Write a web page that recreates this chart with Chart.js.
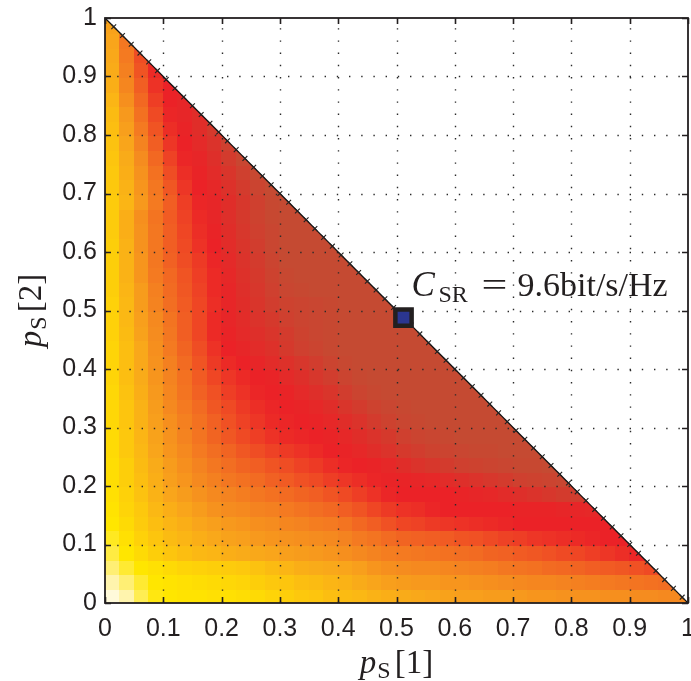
<!DOCTYPE html>
<html>
<head>
<meta charset="utf-8">
<script src="https://cdn.jsdelivr.net/npm/chart.js@4.4.1/dist/chart.umd.min.js"></script>
<style>
html,body{margin:0;padding:0;background:#ffffff;}
#wrap{width:691px;height:681px;position:relative;}
</style>
</head>
<body>
<div id="wrap"><canvas id="c" width="691" height="681"></canvas></div>
<script>
// ---------- DATA ----------
const tickValues = [0, 0.1, 0.2, 0.3, 0.4, 0.5, 0.6, 0.7, 0.8, 0.9, 1];
const tickLabels = ['0', '0.1', '0.2', '0.3', '0.4', '0.5', '0.6', '0.7', '0.8', '0.9', '1'];

// bin edges of the power-split grid (p_S[1] and p_S[2])
const p1Edges = [0, 0.025, 0.05, 0.075, 0.1, 0.125, 0.15, 0.175, 0.2, 0.225, 0.25, 0.275, 0.3, 0.325, 0.35, 0.375, 0.4, 0.425, 0.45, 0.475, 0.5, 0.525, 0.55, 0.575, 0.6, 0.625, 0.65, 0.675, 0.7, 0.725, 0.75, 0.775, 0.8, 0.825, 0.85, 0.875, 0.9, 0.925, 0.95, 0.975, 1];
const p2Edges = [0, 0.025, 0.05, 0.075, 0.1, 0.125, 0.15, 0.175, 0.2, 0.225, 0.25, 0.275, 0.3, 0.325, 0.35, 0.375, 0.4, 0.425, 0.45, 0.475, 0.5, 0.525, 0.55, 0.575, 0.6, 0.625, 0.65, 0.675, 0.7, 0.725, 0.75, 0.775, 0.8, 0.825, 0.85, 0.875, 0.9, 0.925, 0.95, 0.975, 1];

// relative sum-rate level (0 = lowest, 100 = highest) per cell, rows from p_S[2]=0 upward
const rateRows = [
  [3,9,15,19,20,21,21,22,22,23,24,26,28,30,31,33,34,35,37,38,39,40,41,42,43,43,44,44,45,46,46,47,47,47,48,48,49,49,50,50],
  [9,13,17,20,21,22,23,24,25,26,28,30,31,33,34,36,37,39,41,43,44,45,45,46,46,47,48,49,50,51,51,52,53,54,55,56,57,58,59],
  [13,17,20,22,24,26,27,28,29,30,32,34,36,38,39,40,41,43,46,48,49,50,50,51,52,53,54,56,57,58,60,61,62,64,65,66,68,70],
  [16,20,24,28,31,33,35,36,38,39,40,41,43,44,45,46,48,50,52,54,55,56,57,58,59,60,62,63,65,66,68,70,71,73,75,77,79],
  [18,22,27,31,34,36,38,40,42,43,45,46,47,48,49,50,52,55,57,60,62,63,64,65,67,68,70,72,73,75,76,77,78,79,80,80],
  [20,24,29,33,36,38,41,43,45,46,48,49,51,52,54,55,57,61,64,68,71,72,74,75,76,77,78,79,80,80,80,80,80,80,80],
  [21,26,30,35,38,41,44,47,49,50,52,53,55,57,59,61,64,67,71,74,76,77,79,80,80,80,80,80,81,81,81,82,82,83],
  [22,27,32,37,41,44,47,50,52,54,56,58,60,62,64,67,70,73,76,79,80,80,80,80,81,82,83,85,87,89,91,93,94],
  [23,28,33,38,43,46,50,53,56,58,60,63,65,68,70,73,75,77,79,81,81,82,83,85,87,89,91,93,95,96,97,98],
  [23,28,34,39,44,48,52,56,59,62,64,67,69,72,74,77,79,80,81,83,86,89,91,93,95,96,97,98,99,99,100],
  [24,30,35,41,46,50,55,59,62,66,69,72,74,76,78,80,81,83,86,89,92,94,96,97,98,99,99,100,100,100],
  [24,30,36,42,47,52,57,62,66,70,73,76,78,79,80,81,83,86,89,92,95,97,98,99,100,100,100,100,100],
  [25,31,37,43,48,53,58,63,68,72,75,78,79,80,81,83,86,89,93,96,98,99,100,100,100,100,100,100],
  [25,31,37,44,50,55,60,66,70,74,77,79,80,81,83,86,90,93,96,98,99,100,100,100,100,100,100],
  [25,32,38,45,51,57,63,68,73,76,79,80,81,84,87,90,94,97,99,100,100,100,100,100,100,100],
  [26,33,39,46,52,58,65,71,75,78,80,81,84,87,91,94,97,99,100,100,100,100,100,100,100],
  [26,33,40,47,53,60,67,74,78,80,82,85,88,91,94,97,99,100,100,100,100,100,100,100],
  [26,33,40,48,55,62,69,76,80,82,85,88,92,95,97,99,100,100,100,100,100,100,100],
  [27,34,42,49,56,64,71,78,81,84,87,90,93,96,98,99,100,100,100,100,100,100],
  [27,35,43,50,57,64,71,78,82,85,89,92,95,97,98,99,100,100,100,100,100],
  [27,35,44,52,59,65,71,77,82,86,90,94,96,97,98,99,100,100,100,100],
  [28,36,44,53,60,66,72,78,82,87,91,95,98,99,100,100,100,100,100],
  [28,37,46,55,61,67,73,78,83,88,92,96,99,100,100,100,100,100],
  [28,37,46,56,63,69,74,79,84,89,93,97,100,100,100,100,100],
  [28,37,47,56,64,70,76,80,85,90,94,98,100,100,100,100],
  [29,38,47,56,64,71,77,81,86,91,95,98,100,100,100],
  [29,38,48,57,65,72,78,82,87,92,96,99,100,100],
  [29,36,45,55,64,73,79,82,86,91,95,99,100],
  [30,37,46,56,66,75,80,83,88,93,97,100],
  [30,38,47,58,69,77,81,85,90,95,99],
  [31,39,49,61,72,79,82,87,93,98],
  [32,41,52,64,75,80,84,89,95],
  [33,43,55,67,77,81,86,92],
  [34,45,58,70,79,82,86],
  [36,48,61,73,80,82],
  [38,51,64,76,80],
  [39,53,67,78],
  [40,55,69],
  [41,56],
  [42]
];

// power-constraint boundary p_S[1] + p_S[2] = 1 (with its markers)
const boundaryP1 = [0, 0.015, 0.03, 0.045, 0.06, 0.075, 0.09, 0.105, 0.12, 0.135, 0.15, 0.165, 0.18, 0.195, 0.21, 0.225, 0.24, 0.255, 0.27, 0.285, 0.3, 0.315, 0.33, 0.345, 0.36, 0.375, 0.39, 0.405, 0.42, 0.435, 0.45, 0.465, 0.48, 0.495, 0.51, 0.525, 0.54, 0.555, 0.57, 0.585, 0.6, 0.615, 0.63, 0.645, 0.66, 0.675, 0.69, 0.705, 0.72, 0.735, 0.75, 0.765, 0.78, 0.795, 0.81, 0.825, 0.84, 0.855, 0.87, 0.885, 0.9, 0.915, 0.93, 0.945, 0.96, 0.975, 0.99, 1];
const boundaryP2 = [1, 0.985, 0.97, 0.955, 0.94, 0.925, 0.91, 0.895, 0.88, 0.865, 0.85, 0.835, 0.82, 0.805, 0.79, 0.775, 0.76, 0.745, 0.73, 0.715, 0.7, 0.685, 0.67, 0.655, 0.64, 0.625, 0.61, 0.595, 0.58, 0.565, 0.55, 0.535, 0.52, 0.505, 0.49, 0.475, 0.46, 0.445, 0.43, 0.415, 0.4, 0.385, 0.37, 0.355, 0.34, 0.325, 0.31, 0.295, 0.28, 0.265, 0.25, 0.235, 0.22, 0.205, 0.19, 0.175, 0.16, 0.145, 0.13, 0.115, 0.1, 0.085, 0.07, 0.055, 0.04, 0.025, 0.01, 0];

// optimum point
const optimumP1 = [0.512];
const optimumP2 = [0.488];
const optimumText = ['C', 'SR', '=', '9.6bit/s/Hz'];
const xTitle = ['p', 'S', '[1]'];
const yTitle = ['p', 'S', '[2]'];

// ---------- STYLE ----------
const colorStops = [
  [0, '#fffdf0'], [10, '#fff3a6'], [20, '#ffe600'], [30, '#fdc80d'], [40, '#f9a81a'],
  [50, '#f5891f'], [60, '#f26b22'], [70, '#ef4a24'], [80, '#eb2227'], [90, '#d9352b'], [100, '#c54a32']
];
function hexRgb(h){ return [parseInt(h.slice(1,3),16), parseInt(h.slice(3,5),16), parseInt(h.slice(5,7),16)]; }
function levelColor(v){
  for (let k = 0; k < colorStops.length - 1; k++) {
    const [a, ca] = colorStops[k], [b, cb] = colorStops[k+1];
    if (v <= b) {
      const t = (v - a) / (b - a);
      const A = hexRgb(ca), B = hexRgb(cb);
      return 'rgb(' + A.map((c, n) => Math.round(c + (B[n] - c) * t)).join(',') + ')';
    }
  }
  return colorStops[colorStops.length-1][1];
}
const INK = '#231f20';
const SERIF = '"Liberation Serif", "Times New Roman", serif';
const SANS = '"Liberation Sans", Arial, sans-serif';

// ---------- PLUGINS ----------
const heatmapPlugin = {
  id: 'heatmap',
  beforeDatasetsDraw(chart) {
    const {ctx, scales: {x, y}} = chart;
    ctx.save();
    ctx.beginPath();
    ctx.moveTo(x.getPixelForValue(0), y.getPixelForValue(0));
    ctx.lineTo(x.getPixelForValue(1), y.getPixelForValue(0));
    ctx.lineTo(x.getPixelForValue(0), y.getPixelForValue(1));
    ctx.closePath();
    ctx.clip();
    rateRows.forEach((row, j) => {
      const yTop = y.getPixelForValue(p2Edges[j+1]);
      const yBot = y.getPixelForValue(p2Edges[j]);
      row.forEach((v, i) => {
        const xL = x.getPixelForValue(p1Edges[i]);
        const xR = x.getPixelForValue(p1Edges[i+1]);
        ctx.fillStyle = levelColor(v);
        ctx.fillRect(Math.floor(xL), Math.floor(yTop), Math.ceil(xR) - Math.floor(xL) + 1, Math.ceil(yBot) - Math.floor(yTop) + 1);
      });
    });
    ctx.restore();
    // dotted grid
    ctx.save();
    ctx.strokeStyle = '#2a2a2a';
    ctx.lineWidth = 1.4;
    ctx.setLineDash([1.4, 10.8]);
    const a = chart.chartArea;
    tickValues.forEach(v => {
      if (v === 0 || v === 1) return;
      const px = Math.round(x.getPixelForValue(v)) + 0.5;
      ctx.beginPath(); ctx.moveTo(px, a.bottom); ctx.lineTo(px, a.top); ctx.stroke();
      const py = Math.round(y.getPixelForValue(v)) + 0.5;
      ctx.beginPath(); ctx.moveTo(a.left, py); ctx.lineTo(a.right, py); ctx.stroke();
    });
    ctx.restore();
  }
};

function drawTitle(ctx, parts, x0, base, size, subSize, subDrop) {
  ctx.textBaseline = 'alphabetic';
  ctx.textAlign = 'left';
  ctx.font = 'italic ' + size + 'px ' + SERIF;
  const w0 = ctx.measureText(parts[0]).width;
  ctx.fillText(parts[0], x0, base);
  ctx.font = subSize + 'px ' + SERIF;
  const w1 = ctx.measureText(parts[1]).width;
  ctx.fillText(parts[1], x0 + w0 + 1, base + subDrop);
  ctx.font = size + 'px ' + SERIF;
  ctx.fillText(parts[2], x0 + w0 + w1 + 5, base);
}
function titleWidth(ctx, parts, size, subSize) {
  ctx.font = 'italic ' + size + 'px ' + SERIF;
  const w0 = ctx.measureText(parts[0]).width;
  ctx.font = subSize + 'px ' + SERIF;
  const w1 = ctx.measureText(parts[1]).width;
  ctx.font = size + 'px ' + SERIF;
  return w0 + w1 + 5 + ctx.measureText(parts[2]).width;
}

const framePlugin = {
  id: 'frame',
  afterDraw(chart) {
    const {ctx, chartArea: a, scales: {x, y}} = chart;
    ctx.save();
    ctx.strokeStyle = INK;
    ctx.lineWidth = 1.8;
    ctx.strokeRect(a.left, a.top, a.right - a.left, a.bottom - a.top);
    const tl = 6;
    ctx.lineWidth = 1.6;
    tickValues.forEach(v => {
      const px = Math.round(x.getPixelForValue(v)) + 0.5;
      const py = Math.round(y.getPixelForValue(v)) + 0.5;
      ctx.beginPath();
      ctx.moveTo(px, a.bottom); ctx.lineTo(px, a.bottom - tl);
      ctx.moveTo(px, a.top); ctx.lineTo(px, a.top + tl);
      ctx.moveTo(a.left, py); ctx.lineTo(a.left + tl, py);
      ctx.moveTo(a.right, py); ctx.lineTo(a.right - tl, py);
      ctx.stroke();
    });
    ctx.fillStyle = INK;
    // x title
    const xw = titleWidth(ctx, xTitle, 33, 24);
    drawTitle(ctx, xTitle, (a.left + a.right) / 2 - xw / 2, 673, 33, 24, 5);
    // y title (rotated)
    ctx.save();
    ctx.translate(41, (a.top + a.bottom) / 2);
    ctx.rotate(-Math.PI / 2);
    const yw = titleWidth(ctx, yTitle, 33, 24);
    drawTitle(ctx, yTitle, -yw / 2, 0, 33, 24, 5);
    ctx.restore();
    // optimum annotation
    const ox = x.getPixelForValue(optimumP1[0]) + 8;
    const base = y.getPixelForValue(optimumP2[0]) - 22;
    ctx.textBaseline = 'alphabetic';
    ctx.textAlign = 'left';
    ctx.font = 'italic 35px ' + SERIF;
    ctx.fillText(optimumText[0], ox, base);
    ctx.font = '24px ' + SERIF;
    ctx.fillText(optimumText[1], ox + 27, base + 6);
    ctx.save();
    ctx.translate(ox + 70, base);
    ctx.scale(1.35, 1);
    ctx.font = '34px ' + SERIF;
    ctx.fillText(optimumText[2], 0, 0);
    ctx.restore();
    ctx.font = '34px ' + SERIF;
    ctx.fillText(optimumText[3], ox + 106, base);
    ctx.restore();
  }
};

// ---------- CHART ----------
const lastIdx = boundaryP1.length - 1;
new Chart(document.getElementById('c'), {
  type: 'scatter',
  data: {
    datasets: [
      {
        label: 'optimum',
        data: optimumP1.map((v, i) => ({x: v, y: optimumP2[i]})),
        pointStyle: 'rect',
        pointRadius: 11.5,
        pointBorderWidth: 4.5,
        pointBackgroundColor: '#2b3691',
        pointBorderColor: INK,
        order: 0
      },
      {
        label: 'boundary',
        data: boundaryP1.map((v, i) => ({x: v, y: boundaryP2[i]})),
        showLine: true,
        borderColor: '#111111',
        borderWidth: 1.3,
        pointStyle: 'crossRot',
        pointRadius: c => (c.dataIndex === 0 || c.dataIndex === lastIdx) ? 0 : 3.4,
        pointBorderColor: '#222222',
        pointBorderWidth: 1.1,
        order: 1
      }
    ]
  },
  options: {
    responsive: false,
    animation: false,
    devicePixelRatio: 1,
    layout: {autoPadding: false, padding: {left: 0, right: 3, top: 18, bottom: 0}},
    plugins: {legend: {display: false}, tooltip: {enabled: false}},
    scales: {
      x: {
        type: 'linear', min: 0, max: 1,
        afterBuildTicks: s => { s.ticks = tickValues.map(v => ({value: v})); },
        ticks: {callback: (v, i) => tickLabels[i], font: {family: SANS, size: 25}, color: INK, padding: 11, maxRotation: 0, autoSkip: false},
        grid: {display: false, drawTicks: false},
        border: {display: false},
        afterFit: s => { s.height = 78; s.paddingLeft = 0; s.paddingRight = 0; }
      },
      y: {
        type: 'linear', min: 0, max: 1,
        afterBuildTicks: s => { s.ticks = tickValues.map(v => ({value: v})); },
        ticks: {callback: (v, i) => tickLabels[i], font: {family: SANS, size: 25}, color: INK, padding: 8, autoSkip: false},
        grid: {display: false, drawTicks: false},
        border: {display: false},
        afterFit: s => { s.width = 105; s.paddingTop = 0; s.paddingBottom = 0; }
      }
    }
  },
  plugins: [heatmapPlugin, framePlugin]
});
</script>
</body>
</html>
